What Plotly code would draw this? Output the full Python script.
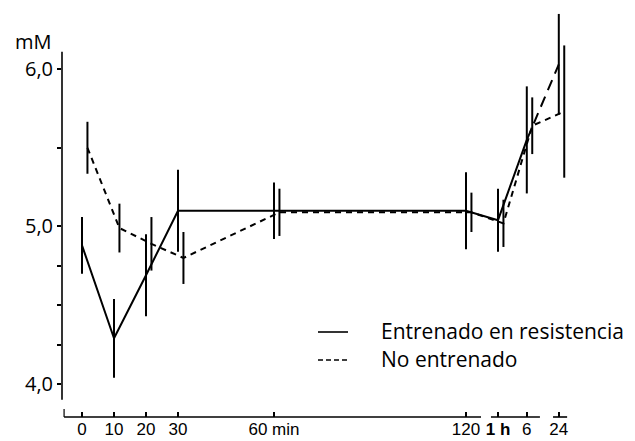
import plotly.graph_objects as go

# Momentos de medición (etiquetas del eje X)
etiquetas = ["0", "10", "20", "30", "60 min", "120", "1 h", "6", "24"]
# Posición en el eje: minutos hasta 120; luego escala comprimida para 1 h, 6 h y 24 h
tiempo = [0, 10, 20, 30, 60, 120, 130, 139, 149]

# Concentración (mM), media y desviación
entrenado = [4.88, 4.29, 4.69, 5.10, 5.10, 5.10, 5.04, 5.55, 6.03]
entrenado_err = [0.18, 0.25, 0.26, 0.26, 0.18, 0.245, 0.20, 0.34, 0.32]

no_entrenado = [5.50, 4.99, 4.89, 4.80, 5.09, 5.09, 5.02, 5.64, 5.73]
no_entrenado_err = [0.165, 0.155, 0.17, 0.165, 0.15, 0.125, 0.15, 0.18, 0.42]

# Marcas del eje Y
y_ticks = [4.0, 4.25, 4.5, 4.75, 5.0, 5.5, 6.0]
y_labels = ["4,0", "", "", "", "5,0", "", "6,0"]

W, H = 635, 441
L, R, T, B = 62, 5, 13, 24
X_RANGE = [-6.25, 171.25]
Y_RANGE = [3.79, 6.356]


def px_x(p):
    return (p - L) / (W - L - R)


def px_y(p):
    return (H - B - p) / (H - T - B)


# Desplazamiento horizontal de la serie discontinua para separar las barras
despl = 1.7
x_no = [t + despl for t in tiempo]

err_style = dict(type="data", width=0, thickness=2, color="black")

fig = go.Figure()

# Entrenado en resistencia (línea continua)
fig.add_trace(go.Scatter(
    x=tiempo[:8], y=entrenado[:8], mode="lines",
    line=dict(color="black", width=2),
    error_y=dict(array=entrenado_err[:8], **err_style),
    showlegend=False, hoverinfo="skip"))
# Tramo 6 h -> 24 h, cortado por la interrupción del eje
fig.add_trace(go.Scatter(
    x=tiempo[7:], y=entrenado[7:], mode="lines",
    line=dict(color="black", width=2, dash="11px,7px"),
    error_y=dict(array=[0, entrenado_err[8]], **err_style),
    showlegend=False, hoverinfo="skip"))

# No entrenado (línea discontinua)
fig.add_trace(go.Scatter(
    x=x_no, y=no_entrenado, mode="lines",
    line=dict(color="black", width=2, dash="6px,5px"),
    error_y=dict(array=no_entrenado_err, **err_style),
    showlegend=False, hoverinfo="skip"))

shapes = []
# Eje Y
shapes.append(dict(type="line", xref="paper", yref="y", x0=0, x1=0,
                   y0=3.90, y1=6.11, line=dict(color="black", width=1.6)))
# Eje X interrumpido en tres tramos
for a, b in [(-5.6, 124.7), (127.8, 143.1), (147.2, 151.6)]:
    shapes.append(dict(type="line", xref="x", yref="paper", x0=a, x1=b,
                       y0=0, y1=0, line=dict(color="black", width=1.6)))
shapes.append(dict(type="line", xref="x", yref="paper", x0=-5.6, x1=-5.6,
                   y0=0, y1=px_y(409), line=dict(color="black", width=1.2)))

# Leyenda
shapes.append(dict(type="line", xref="paper", yref="paper",
                   x0=px_x(318), x1=px_x(348), y0=px_y(332), y1=px_y(332),
                   line=dict(color="black", width=1.6)))
shapes.append(dict(type="line", xref="paper", yref="paper",
                   x0=px_x(318), x1=px_x(348), y0=px_y(360), y1=px_y(360),
                   line=dict(color="black", width=1.6, dash="5px,3px")))

annotations = [
    dict(text="Entrenado en resistencia", x=px_x(379), y=px_y(331),
         xref="paper", yref="paper", xanchor="left", yanchor="middle",
         showarrow=False, font=dict(family="Open Sans", size=21, color="black")),
    dict(text="No entrenado", x=px_x(379), y=px_y(359),
         xref="paper", yref="paper", xanchor="left", yanchor="middle",
         showarrow=False, font=dict(family="Open Sans", size=21, color="black")),
    dict(text="mM", x=px_x(53), y=px_y(42),
         xref="paper", yref="paper", xanchor="right", yanchor="middle",
         showarrow=False, borderpad=0,
         font=dict(family="Open Sans", size=20, color="black")),
]

narrow = "font-family:'Liberation Sans Narrow','Arial Narrow','Liberation Sans'"
x_text = []
for i, lab in enumerate(etiquetas):
    if lab == "1 h":
        x_text.append("<span style=\"%s\"><b>%s</b></span>" % (narrow, lab))
    elif i >= 5:
        x_text.append("<span style=\"%s\">%s</span>" % (narrow, lab))
    else:
        x_text.append(lab)

fig.update_layout(
    width=W, height=H,
    margin=dict(l=L, r=R, t=T, b=B, pad=0, autoexpand=False),
    paper_bgcolor="white", plot_bgcolor="white",
    shapes=shapes, annotations=annotations,
    xaxis=dict(range=X_RANGE, tickvals=tiempo, ticktext=x_text,
               ticks="inside", ticklen=5, tickwidth=1.5, tickcolor="black",
               ticklabelstandoff=0, automargin=False,
               showline=False, showgrid=False, zeroline=False,
               tickfont=dict(family="Liberation Sans", size=17, color="black")),
    yaxis=dict(range=Y_RANGE, tickvals=y_ticks, ticktext=y_labels,
               ticks="outside", ticklen=4, tickwidth=1.5, tickcolor="black",
               automargin=False,
               showline=False, showgrid=False, zeroline=False,
               tickfont=dict(family="Open Sans", size=20, color="black")),
)

fig.write_html("out.html")
